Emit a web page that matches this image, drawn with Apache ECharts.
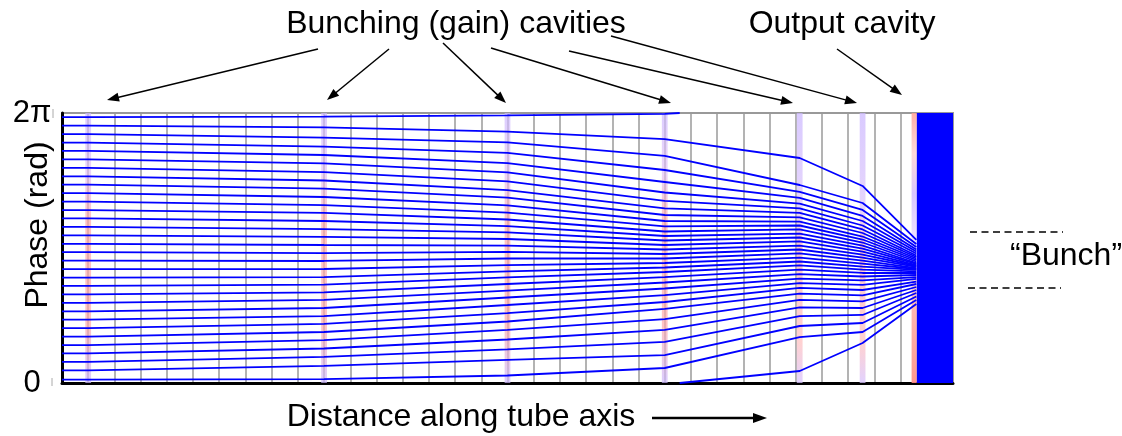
<!DOCTYPE html>
<html><head><meta charset="utf-8">
<script src="https://cdn.jsdelivr.net/npm/echarts@6/dist/echarts.min.js"></script>
<style>html,body{margin:0;padding:0;background:#fff}#c{width:1122px;height:436px}</style>
</head><body><div id="c"></div>
<script>
// ---- data: distance stations (cavity index units) and electron phases (degrees) ----
const stationX = [0, 1, 10, 17, 23, 28.15, 30.55, 32.6];
const phaseStart = [354.4, 343.1, 331.9, 320.6, 309.4, 298.1, 286.9, 275.6, 264.4, 253.1, 241.9, 230.6, 219.4, 208.1, 196.9, 185.6, 174.4, 163.1, 151.9, 140.6, 129.4, 118.1, 106.9, 95.6, 84.4, 73.1, 61.9, 50.6, 39.4, 28.1, 16.9, 4.5];
const phaseCav1 = [354.4, 343.1, 331.9, 320.6, 309.4, 298.1, 286.9, 275.6, 264.4, 253.1, 241.9, 230.6, 219.4, 208.1, 196.9, 185.6, 174.4, 163.1, 151.9, 140.6, 129.4, 118.1, 106.9, 95.6, 84.4, 73.1, 61.9, 50.6, 39.4, 28.1, 16.9, 4.5];
const phaseCav2 = [355.3, 340.7, 327.3, 315.3, 304, 292.7, 281.3, 270, 259.3, 248, 237.3, 226.7, 216, 205.3, 194.7, 184, 173.3, 162.7, 152, 141.3, 131.3, 120.7, 110.7, 100, 89.3, 78.7, 68, 57.3, 46, 34.7, 22.7, 5.3];
const phaseCav3 = [356.7, 335.3, 320.7, 306.7, 293.3, 280.7, 268.7, 257.3, 247.3, 236.7, 227.3, 218, 209.3, 200.7, 192, 183.3, 174.7, 166, 157.3, 148.7, 140.7, 132, 123.3, 114, 104, 93.3, 82, 70.7, 58, 44.7, 30.7, 10];
const phaseCav4 = [358.7, 325.3, 302.7, 284, 268, 254, 242.7, 232.7, 224, 216, 208.7, 202, 196, 190, 184, 178, 172, 166, 160, 154, 148, 141.3, 134, 126, 117.3, 108, 98.7, 85.3, 70.7, 54.7, 37.3, 20];
const phaseCav5 = [null, 300, 264, 254.7, 246.7, 239.3, 232.7, 226.7, 220.7, 215.3, 210, 204.7, 199.3, 194, 188.7, 183.3, 178, 172.7, 167.3, 162, 156.7, 151.3, 145.3, 139.3, 133.3, 126.7, 119.3, 110.7, 100.7, 89.3, 76, 61.3];
const phaseCav6 = [null, 262.7, 240, 230.7, 222.7, 216, 210, 204.7, 200, 195.3, 191.3, 187.3, 183.3, 179.3, 175.3, 171.3, 167.3, 163.3, 159.3, 155.3, 151.3, 146.7, 142, 136.7, 130.7, 124, 116.7, 108.7, 100, 90.7, 80, 68];
const phaseOut = [null, 190.7, 185.3, 181.3, 178, 175.3, 172.7, 170, 168, 166, 164, 162, 160, 158.7, 157.3, 156, 154.7, 153.3, 152, 150.7, 148.7, 146.7, 144, 141.3, 138.7, 135.3, 132, 128, 124, 120, 115.3, 110.7];
const wrapX = 23.57;                    // top electron passes 2π and re-enters at 0
const wrappedPhases = [16, 53.3, 105.3]; // at cavity 5, cavity 6, output
const bunchingCavityX = [1, 10, 17, 23, 28.15, 30.55];
const outputCavityX = 32.52;
const collectorRange = [32.62, 34];
const yTickLabels = {0: '0', 360: '2π'};

// ---- build ----
const FONT = "'Liberation Sans', Arial, sans-serif";
const stations = [phaseStart, phaseCav1, phaseCav2, phaseCav3, phaseCav4, phaseCav5, phaseCav6, phaseOut];
const trajSeries = [];
for (let k = 0; k < phaseStart.length; k++) {
  const pts = [];
  stations.forEach((arr, i) => { if (arr[k] !== null) pts.push([stationX[i], arr[k]]); });
  if (phaseCav5[k] === null) pts.push([wrapX, 360]);
  trajSeries.push(pts);
}
trajSeries.push([[wrapX, 0]].concat(wrappedPhases.map((p, i) => [stationX[5 + i], p])));

const lineColor = '#0000ff';
const series = [];
// cavity bands
const bandGrad = (stops) => ({type: 'linear', x: 0, y: 0, x2: 0, y2: 1, colorStops: stops});
const gainStops = [
  {offset: 0, color: 'rgba(205,185,255,0.7)'}, {offset: 0.22, color: 'rgba(225,190,245,0.65)'},
  {offset: 0.4, color: 'rgba(255,170,170,0.7)'}, {offset: 0.78, color: 'rgba(255,170,170,0.7)'},
  {offset: 1, color: 'rgba(205,185,255,0.7)'}];
const lateStops = [
  {offset: 0, color: 'rgba(205,185,255,0.75)'}, {offset: 0.35, color: 'rgba(215,190,250,0.65)'},
  {offset: 0.5, color: 'rgba(255,175,175,0.7)'}, {offset: 0.85, color: 'rgba(255,185,185,0.65)'},
  {offset: 1, color: 'rgba(215,195,255,0.75)'}];
const outStops = [
  {offset: 0, color: 'rgba(255,160,150,0.85)'}, {offset: 0.15, color: 'rgba(255,200,200,0.7)'},
  {offset: 0.3, color: 'rgba(205,185,255,0.8)'}, {offset: 0.5, color: 'rgba(230,210,255,0.6)'},
  {offset: 0.7, color: 'rgba(255,170,160,0.8)'}, {offset: 1, color: 'rgba(255,140,130,0.9)'}];
const bandData = bunchingCavityX.map((cx, i) => [
  {xAxis: cx - 0.11, yAxis: 0, itemStyle: {color: bandGrad(i < 4 ? gainStops : lateStops)}},
  {xAxis: cx + 0.11, yAxis: 360}]);
bandData.push([{xAxis: outputCavityX - 0.1, yAxis: 0, itemStyle: {color: bandGrad(outStops)}}, {xAxis: outputCavityX + 0.1, yAxis: 360}]);
series.push({type: 'line', data: [], z: 1, silent: true, markArea: {silent: true, data: bandData}});
trajSeries.forEach(pts => series.push({
  type: 'line', data: pts, showSymbol: false, symbol: 'none', z: 2, silent: true,
  lineStyle: {color: lineColor, width: 1.8}
}));
series.push({type: 'line', data: [], z: 3, silent: true, markArea: {silent: true, itemStyle: {color: lineColor},
  data: [[{xAxis: collectorRange[0], yAxis: 0}, {xAxis: collectorRange[1], yAxis: 360}]]}});

// annotations
function arrow(x1, y1, x2, y2, lw, hl, hw) {
  const dx = x2 - x1, dy = y2 - y1, L = Math.hypot(dx, dy), ux = dx / L, uy = dy / L;
  const bx = x2 - ux * hl, by = y2 - uy * hl, px = -uy * hw / 2, py = ux * hw / 2;
  return [
    {type: 'line', shape: {x1, y1, x2: bx + ux, y2: by + uy}, style: {stroke: '#000', lineWidth: lw}},
    {type: 'polygon', shape: {points: [[x2, y2], [bx + px, by + py], [bx - px, by - py]]}, style: {fill: '#000'}}
  ];
}
const calloutArrows = [[318, 49, 107, 100], [389, 49, 327, 100], [443, 43, 506, 103], [491, 48, 671, 103],
  [569, 51, 793, 103], [611, 36, 857, 103], [837, 49, 902, 95]];
let graphics = [];
calloutArrows.forEach(a => { graphics = graphics.concat(arrow(a[0], a[1], a[2], a[3], 1.5, 12, 9)); });
graphics = graphics.concat(arrow(652, 418, 767, 418, 2.5, 14, 10));
const txt = (s, x, y, extra) => Object.assign({type: 'text', x, y, style: {text: s, font: '32px ' + FONT, fill: '#000', align: 'center', verticalAlign: 'middle'}}, extra || {});
graphics.push(txt('Bunching (gain) cavities', 456, 24));
graphics.push(txt('Output cavity', 842, 24));
graphics.push(txt('Distance along tube axis', 461, 417));
graphics.push({type: 'text', x: 1010, y: 256, style: {text: '“Bunch”', font: '32px ' + FONT, fill: '#000', align: 'left', verticalAlign: 'middle'}});
graphics.push(txt('Phase (rad)', 38, 225, {rotation: Math.PI / 2}));
graphics.push({type: 'line', shape: {x1: 970, y1: 232, x2: 1063, y2: 232}, style: {stroke: '#000', lineWidth: 1.5, lineDash: [7, 4.5]}});
graphics.push({type: 'line', shape: {x1: 968, y1: 288, x2: 1061, y2: 288}, style: {stroke: '#000', lineWidth: 1.5, lineDash: [7, 4.5]}});
graphics.push({type: 'line', shape: {x1: 53, y1: 109, x2: 53, y2: 118}, style: {stroke: '#aaa', lineWidth: 1}});
graphics.push({type: 'line', shape: {x1: 52, y1: 378, x2: 52, y2: 386}, style: {stroke: '#aaa', lineWidth: 1}});

const chart = echarts.init(document.getElementById('c'), null, {renderer: 'canvas'});
chart.setOption({
  animation: false,
  backgroundColor: '#fff',
  grid: {left: 62, top: 113, width: 891, height: 270, show: true, borderColor: '#999', borderWidth: 2, backgroundColor: 'transparent'},
  xAxis: {type: 'value', min: 0, max: 34, interval: 1,
    axisLine: {show: true, lineStyle: {color: '#000', width: 3}}, axisTick: {show: false}, axisLabel: {show: false},
    splitLine: {show: true, lineStyle: {color: '#9a9a9a', width: 1.5}}},
  yAxis: {type: 'value', min: 0, max: 360, interval: 360,
    axisLine: {show: true, lineStyle: {color: '#000', width: 3}}, axisTick: {show: false}, splitLine: {show: false},
    axisLabel: {formatter: v => (yTickLabels[v] !== undefined ? yTickLabels[v] : ''), fontSize: 31, fontFamily: FONT, color: '#000', align: 'center', margin: 30}},
  series: series,
  graphic: graphics
});
</script></body></html>
